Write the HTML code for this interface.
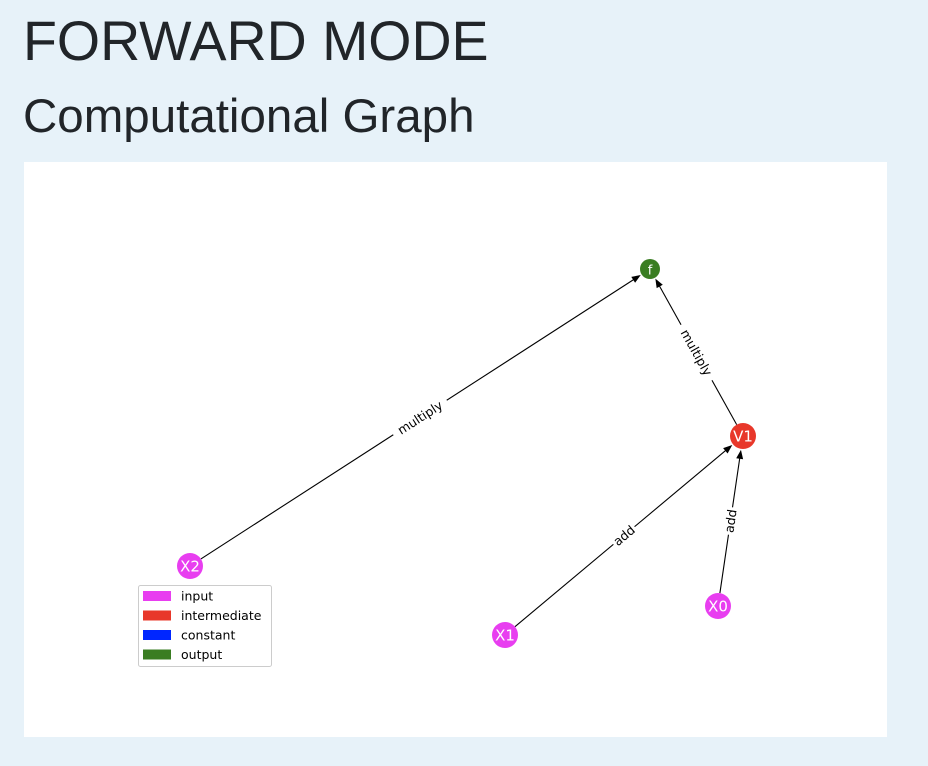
<!DOCTYPE html>
<html><head><meta charset="utf-8"><style>
html,body{margin:0;padding:0;width:928px;height:766px;background:#e7f2f9;overflow:hidden;font-family:"Liberation Sans",sans-serif;}
h1{position:absolute;left:23px;top:6px;margin:0;font-weight:normal;font-size:55.5px;line-height:70px;color:#212529;}
h2{position:absolute;left:23px;top:87px;margin:0;font-weight:normal;font-size:47.5px;line-height:60px;color:#212529;}
#panel{position:absolute;left:24px;top:162px;width:863px;height:575px;background:#fff;}
svg{position:absolute;left:0;top:0;}
</style></head><body>
<h1>FORWARD MODE</h1>
<h2>Computational Graph</h2>
<div id="panel"></div>
<svg id="g" width="928" height="766" font-family="DejaVu Sans, sans-serif"></svg>
<script>
const nodeNames=["f","V1","X2","X1","X0"];
const nodeTypes=["output","intermediate","input","input","input"];
const nodeX=[650,743,190,505,718];
const nodeY=[269,436,566,635,606];
const nodeR=[10,13,13,13,13];
const edgeFrom=["X2","V1","X1","X0"];
const edgeTo=["f","f","V1","V1"];
const edgeOps=["multiply","multiply","add","add"];
const legendLabels=["input","intermediate","constant","output"];
const colors={input:"#e83ef0",intermediate:"#e8372a",constant:"#0026ff",output:"#3a7d22"};
const NS="http://www.w3.org/2000/svg";
const svg=document.getElementById("g");
function mk(t,a,p){const e=document.createElementNS(NS,t);for(const k in a)e.setAttribute(k,a[k]);(p||svg).appendChild(e);return e;}
const idx=n=>nodeNames.indexOf(n);
edgeFrom.forEach((s,i)=>{
 const a=idx(s),b=idx(edgeTo[i]);
 const x1=nodeX[a],y1=nodeY[a],x2=nodeX[b],y2=nodeY[b];
 const dx=x2-x1,dy=y2-y1,L=Math.hypot(dx,dy),ux=dx/L,uy=dy/L;
 const sx=x1+ux*nodeR[a],sy=y1+uy*nodeR[a],ex=x2-ux*(nodeR[b]+1),ey=y2-uy*(nodeR[b]+1);
 const line=mk("line",{x1:sx,y1:sy,x2:ex-ux*6,y2:ey-uy*6,stroke:"#000","stroke-width":1.1});
 
 
 const px=-uy,py=ux;
 const ar=mk("polygon",{points:`${ex},${ey} ${ex-ux*9+px*3.5},${ey-uy*9+py*3.5} ${ex-ux*9-px*3.5},${ey-uy*9-py*3.5}`,fill:"#000"});
 
 
 let ang=Math.atan2(dy,dx)*180/Math.PI;
 if(ang>90)ang-=180; if(ang<-90)ang+=180;
 const mx=(x1+x2)/2,my=(y1+y2)/2;
 const g=mk("g",{transform:`translate(${mx},${my}) rotate(${ang})`});
 const w=edgeOps[i].length*7.2+6;
 mk("rect",{x:-w/2,y:-8,width:w,height:16,fill:"#fff"},g);
 const t=mk("text",{x:0,y:4.5,"text-anchor":"middle","font-size":12.5,fill:"#000"},g);
 t.textContent=edgeOps[i];
 
 
});
nodeNames.forEach((n,i)=>{
 const c=mk("circle",{cx:nodeX[i],cy:nodeY[i],r:nodeR[i],fill:colors[nodeTypes[i]]});
 
 
 const t=mk("text",{x:nodeX[i],y:nodeY[i]+5.5,"text-anchor":"middle","font-size":nodeR[i]>11?15:13,fill:"#fff"});
 t.textContent=n;
 
 
});
const lg=mk("g",{});


mk("rect",{x:138.5,y:585.5,width:133,height:81,rx:2,fill:"#fff",stroke:"#ccc"},lg);
legendLabels.forEach((l,i)=>{
 const y=596+i*19.5;
 const r=mk("rect",{x:143,y:y-5,width:28,height:10,fill:colors[l]},lg);
 
 
 const t=mk("text",{x:181,y:y+4.5,"font-size":12.5,fill:"#000"},lg);
 t.textContent=l;
 
 
});
</script>
</body></html>
